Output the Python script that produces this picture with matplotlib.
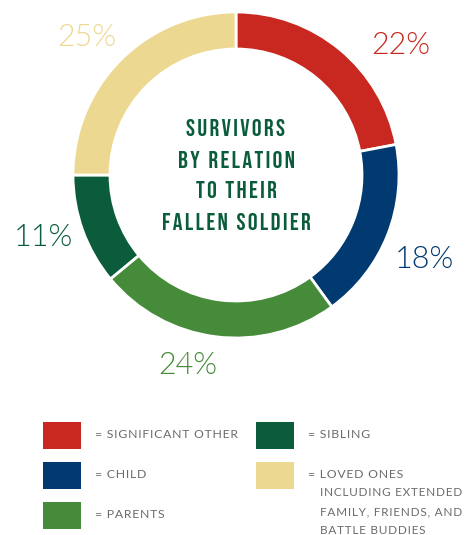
import matplotlib.pyplot as plt
from matplotlib.patches import Rectangle

# データ
categories = ['SIGNIFICANT OTHER', 'CHILD', 'PARENTS', 'SIBLING', 'LOVED ONES']
values = [22, 18, 24, 11, 25]
colors = ['#C8281F', '#003A70', '#458B3A', '#0A5C3A', '#EDD891']
pct_labels = ['22%', '18%', '24%', '11%', '25%']
title_lines = ['SURVIVORS', 'BY RELATION', 'TO THEIR', 'FALLEN SOLDIER']

W, H = 470, 535
fig = plt.figure(figsize=(W / 100, H / 100), dpi=100)
ax = fig.add_axes([0, 0, 1, 1])


def Y(y):
    # 画像のピクセル座標(上から)をデータ座標に変換
    return H - y


cx, cy = 236, 175
ax.pie(values, colors=colors, startangle=90, counterclock=False,
       radius=163, center=(cx, Y(cy)),
       wedgeprops=dict(width=37, edgecolor='white', linewidth=2))
ax.set_xlim(0, W)
ax.set_ylim(0, H)
ax.set_aspect('auto')
ax.axis('off')


def spaced(s, sp='\u200a'):
    return sp.join(s)


# 中央タイトル
for i, line in enumerate(title_lines):
    ax.text(cx, Y(128 + i * 31), spaced(line), ha='center',
            va='center', fontsize=17.5, color='#0B5C3B',
            family=['Bebas Neue', 'DejaVu Sans'])

# パーセントラベル
pct_pos = [(401, 46), (424, 260), (188, 366), (43, 238), (87, 38)]
for (x, y), lab, c in zip(pct_pos, pct_labels, colors):
    ax.text(x, Y(y), lab, ha='center', va='center', fontsize=22,
            color=c, family=['Lato', 'DejaVu Sans'], fontweight=300)

# 凡例
legend_text = ['= SIGNIFICANT OTHER', '= CHILD', '= PARENTS', '= SIBLING',
               '= LOVED ONES']
sq = [(43, 422), (43, 462), (43, 502), (256, 422), (256, 462)]
txt_pos = [(95, 435), (95, 475), (95, 515), (308, 435), (308, 475)]
for (x, y), c in zip(sq, colors):
    ax.add_patch(Rectangle((x, Y(y + 27)), 38, 27, color=c, lw=0))
for (x, y), t in zip(txt_pos, legend_text):
    ax.text(x, Y(y), spaced(t), ha='left', va='center', fontsize=8.8,
            color='#6B6B6B', family=['Lato', 'DejaVu Sans'])
extra = ['INCLUDING EXTENDED', 'FAMILY, FRIENDS, AND', 'BATTLE BUDDIES']
for i, t in enumerate(extra):
    ax.text(320, Y(493 + i * 18.5), spaced(t), ha='left', va='center',
            fontsize=8.5, color='#6B6B6B', family=['Lato', 'DejaVu Sans'])

plt.savefig('out.png', dpi=100)
print("保存しました: out.png")
